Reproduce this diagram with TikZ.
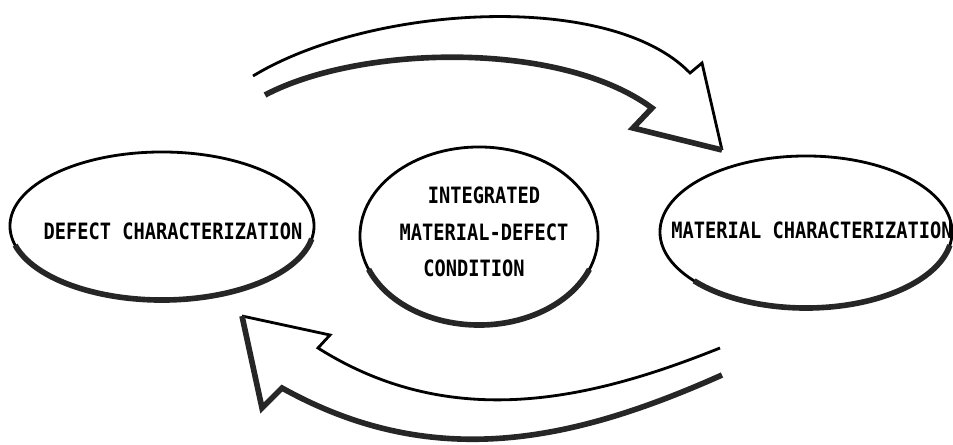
\documentclass[tikz,border=0pt]{standalone}
\usepackage{fontspec}
\usepackage{graphicx}
\newfontfamily\stencil{DejaVu Sans Mono}
\usetikzlibrary{shapes.geometric}
\newcommand{\squeeze}[1]{\scalebox{0.83}[1]{#1}}

\begin{document}
\begin{tikzpicture}
[x=0.025cm,y=-0.025cm,
 blob/.style={ellipse,draw,line width=2pt,inner sep=0pt},
 lbl/.style={font=\stencil\bfseries\fontsize{16}{26}\selectfont,inner sep=0pt,align=center},
 thinedge/.style={line width=2pt,line join=miter},
 shadeedge/.style={line width=4pt,line join=miter,black!85}]
\useasboundingbox (0,0) rectangle (953,445);
% the three conditions
\node[blob,minimum width=7.6cm,minimum height=3.7cm] (defect) at (162,226) {};
\node[blob,minimum width=5.95cm,minimum height=4.45cm] (integrated) at (479,236) {};
\node[blob,minimum width=7.3cm,minimum height=3.8cm] (material) at (806,232) {};
\node[lbl] (defect text) at (173,231) {\squeeze{DEFECT CHARACTERIZATION}};
\node[lbl] (integrated text) at (484,232) {\squeeze{INTEGRATED}\\\squeeze{MATERIAL-DEFECT}\\\squeeze{CONDITION}\hspace*{0.5cm}};
\node[lbl] (material text) at (812,230) {\squeeze{MATERIAL CHARACTERIZATION}};
% heavy lower rims
\draw[shadeedge] ([shift={(195:3.8cm and 1.85cm)}]defect.center) arc[start angle=195,end angle=350,x radius=3.8cm,y radius=1.85cm];
\draw[shadeedge] ([shift={(202:2.975cm and 2.225cm)}]integrated.center) arc[start angle=202,end angle=338,x radius=2.975cm,y radius=2.225cm];
\draw[shadeedge] ([shift={(220:3.65cm and 1.9cm)}]material.center) arc[start angle=220,end angle=350,x radius=3.65cm,y radius=1.9cm];
% arrow from defect to material
\draw[thinedge] (253,76) .. controls (370,5) and (610,-10) .. (690,73) -- (702,63) -- (722,150);
\draw[shadeedge] (722,150) -- (633,128) -- (652,108) .. controls (560,40) and (360,45) .. (265,95);
% arrow from material back to defect
\draw[thinedge] (720,348) .. controls (595,398) and (454,434) .. (318,348) -- (330,335) -- (242,316);
\draw[shadeedge] (242,316) -- (262,408) -- (282,388) .. controls (433,472) and (572,442) .. (722,375);
\end{tikzpicture}
\end{document}
